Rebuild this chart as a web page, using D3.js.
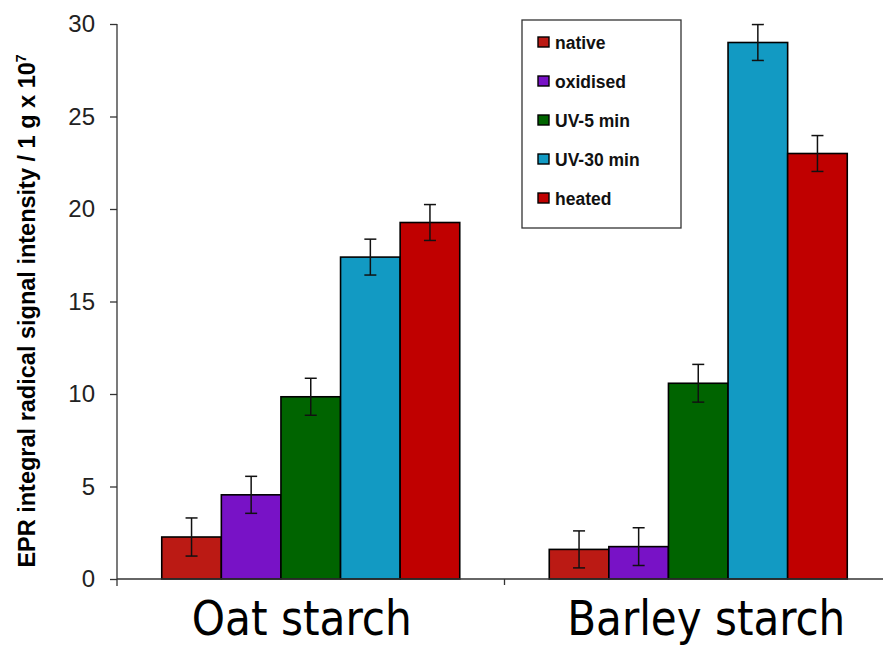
<!DOCTYPE html>
<html>
<head>
<meta charset="utf-8">
<script src="https://cdn.jsdelivr.net/npm/d3@7/dist/d3.min.js"></script>
<style>
  html, body { margin: 0; padding: 0; background: #fff; }
  svg { display: block; }
</style>
</head>
<body>
<svg id="chart" width="883" height="648"></svg>
<script>
// Starch samples and treatments
const groups = ["Oat starch", "Barley starch"];
const treatments = ["native", "oxidised", "UV-5 min", "UV-30 min", "heated"];
const colors = ["#bb1a14", "#7812c6", "#006400", "#129ac3", "#c00000"];

// EPR signal intensity (x 10^7 per 1 g) and standard errors
const oatValues = [2.27, 4.55, 9.85, 17.4, 19.27];
const barleyValues = [1.6, 1.75, 10.58, 29.0, 23.0];
const oatErrors = [1.03, 1.0, 1.0, 0.97, 0.97];
const barleyErrors = [1.0, 1.02, 1.02, 0.97, 0.97];

const yTicks = [0, 5, 10, 15, 20, 25, 30];

const svg = d3.select("#chart");
const x0 = 117, yBase = 579, yTop = 24, bandW = 387.5;

const x = d3.scaleBand().domain(groups).range([x0, x0 + bandW * 2]).paddingInner(0).paddingOuter(0);
const y = d3.scaleLinear().domain([0, 30]).range([yBase, yTop]);
const groupW = 298;
const xs = d3.scaleBand().domain(treatments).range([0, groupW]);

const rows = [];
groups.forEach((g, gi) => {
  const vals = gi === 0 ? oatValues : barleyValues;
  const errs = gi === 0 ? oatErrors : barleyErrors;
  treatments.forEach((t, i) => rows.push({ g, t, i, v: vals[i], e: errs[i] }));
});
const gx = g => x(g) + (x.bandwidth() - groupW) / 2;

// bars
svg.append("g").selectAll("rect").data(rows).join("rect")
  .attr("x", d => gx(d.g) + xs(d.t))
  .attr("y", d => y(d.v))
  .attr("width", xs.bandwidth())
  .attr("height", d => y(0) - y(d.v))
  .attr("fill", d => colors[d.i])
  .attr("stroke", "#000")
  .attr("stroke-width", 1.6);

// error bars
const eb = svg.append("g").attr("stroke", "#111").attr("stroke-width", 1.5);
rows.forEach(d => {
  const cx = gx(d.g) + xs(d.t) + xs.bandwidth() / 2;
  eb.append("line").attr("x1", cx).attr("x2", cx).attr("y1", y(d.v + d.e)).attr("y2", y(d.v - d.e));
  eb.append("line").attr("x1", cx - 6).attr("x2", cx + 6).attr("y1", y(d.v + d.e)).attr("y2", y(d.v + d.e));
  eb.append("line").attr("x1", cx - 6).attr("x2", cx + 6).attr("y1", y(d.v - d.e)).attr("y2", y(d.v - d.e));
});

// y axis
const yAxis = d3.axisLeft(y).tickValues(yTicks).tickSize(7).tickPadding(15);
const ya = svg.append("g").attr("transform", `translate(${x0},0)`).call(yAxis);
ya.select(".domain").attr("stroke", "#333").attr("stroke-width", 1.3).attr("d", `M0,${yTop}V${yBase + 7}`);
ya.selectAll(".tick line").attr("stroke", "#333").attr("stroke-width", 1.3);
ya.selectAll(".tick text")
  .attr("font-family", "Liberation Sans, Arial, sans-serif")
  .attr("font-size", 24).attr("fill", "#222");

// x axis
const xAxis = d3.axisBottom(x).tickValues([]).tickSizeOuter(0);
const xa = svg.append("g").attr("transform", `translate(0,${yBase})`).call(xAxis);
xa.select(".domain").attr("stroke", "#333").attr("stroke-width", 1.3).attr("d", `M${x0},0H883`);
xa.append("line").attr("x1", x0 + bandW).attr("x2", x0 + bandW).attr("y1", 0).attr("y2", 6)
  .attr("stroke", "#333").attr("stroke-width", 1.3);

// category labels
const labelWidth = { "Oat starch": 220, "Barley starch": 278 };
svg.append("g").selectAll("text").data(groups).join("text")
  .attr("x", g => x(g) + x.bandwidth() / 2 + (g === groups[0] ? -9 : 8))
  .attr("y", 635)
  .attr("text-anchor", "middle")
  .attr("font-family", "DejaVu Sans Condensed, DejaVu Sans, sans-serif")
  .attr("font-stretch", "condensed")
  .attr("font-size", 48)
  .attr("textLength", g => labelWidth[g])
  .attr("lengthAdjust", "spacingAndGlyphs")
  .attr("fill", "#000")
  .text(g => g);

// y axis title
const yt = svg.append("text")
  .attr("transform", `translate(35,${(44 + 578) / 2}) rotate(-90)`)
  .attr("text-anchor", "middle")
  .attr("font-family", "Liberation Sans, Arial, sans-serif")
  .attr("font-weight", "bold")
  .attr("font-size", 23.5)
  .attr("fill", "#000");
yt.append("tspan").text("EPR integral radical signal intensity / 1 g x 10");
yt.append("tspan").attr("dy", -9).attr("font-size", 14).text("7");

// legend
const lg = svg.append("g");
lg.append("rect").attr("x", 522).attr("y", 20).attr("width", 159).attr("height", 208)
  .attr("fill", "#fff").attr("stroke", "#333").attr("stroke-width", 1.3);
const li = lg.selectAll("g.item").data(treatments).join("g").attr("class", "item")
  .attr("transform", (d, i) => `translate(538,${42 + i * 39})`);
li.append("rect").attr("x", 0).attr("y", -5).attr("width", 11).attr("height", 10)
  .attr("fill", (d, i) => colors[i]).attr("stroke", "#000").attr("stroke-width", 1.4);
li.append("text").attr("x", 17).attr("y", 6.5)
  .attr("font-family", "Liberation Sans, Arial, sans-serif")
  .attr("font-weight", "bold")
  .attr("font-size", 17.5).attr("fill", "#111")
  .text(d => d);
</script>
</body>
</html>
